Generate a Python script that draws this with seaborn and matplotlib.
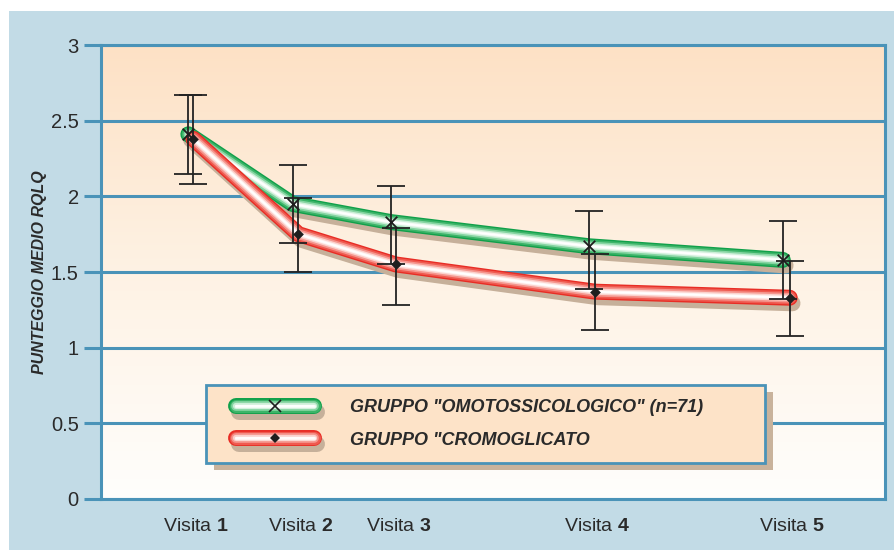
import numpy as np
import pandas as pd
import seaborn as sns
import matplotlib
matplotlib.use("Agg")
import matplotlib.pyplot as plt
import matplotlib.patheffects as pe
from matplotlib.colors import LinearSegmentedColormap
from matplotlib.lines import Line2D
from matplotlib.patches import Rectangle
from matplotlib.legend_handler import HandlerTuple
from matplotlib.transforms import ScaledTranslation

# ---------------- data ----------------
visits = ["1", "2", "3", "4", "5"]
visit_pos = [1.0, 2.06, 3.05, 5.05, 7.01]

omo_x = [0.98, 2.03, 3.02, 5.02, 6.97]
omo_mean = [2.41, 1.95, 1.83, 1.67, 1.58]
omo_hi = [2.67, 2.21, 2.07, 1.90, 1.84]
omo_lo = [2.15, 1.69, 1.55, 1.39, 1.32]

cro_x = [1.03, 2.09, 3.07, 5.08, 7.04]
cro_mean = [2.38, 1.75, 1.55, 1.37, 1.33]
cro_hi = [2.67, 1.99, 1.79, 1.62, 1.57]
cro_lo = [2.08, 1.50, 1.28, 1.12, 1.08]

label_omo = 'GRUPPO "OMOTOSSICOLOGICO" (n=71)'
label_cro = 'GRUPPO "CROMOGLICATO'
ylabel = "PUNTEGGIO MEDIO RQLQ"

# ---------------- style ----------------
sns.set_theme(style="white")
FAM = ["Liberation Sans", "DejaVu Sans"]
plt.rcParams["font.family"] = FAM
plt.rcParams["mathtext.fontset"] = "custom"
plt.rcParams["mathtext.rm"] = "Liberation Sans"
plt.rcParams["mathtext.bf"] = "Liberation Sans:bold"

BLUE = "#4a93b8"
PANEL = "#c2dbe6"
TXT = "#2a2a2a"

fig = plt.figure(figsize=(8.94, 5.5), dpi=100, facecolor="white")
fig.patches.append(Rectangle((9 / 894, 0), 1, 1 - 11 / 550, transform=fig.transFigure,
                             facecolor=PANEL, edgecolor="none", zorder=-10))
ax = fig.add_axes([101 / 894, 1 - 499 / 550, 784 / 894, 454 / 550])

# gradient background
cmap = LinearSegmentedColormap.from_list("bg", ["#fffefc", "#fef2e4", "#fde1c5"])
grad = np.linspace(0, 1, 256)[:, None]
ax.imshow(grad, extent=(0.1, 8.0, 0, 3), origin="lower", aspect="auto",
          cmap=cmap, zorder=-2)
ax.set_xlim(0.1, 8.0)
ax.set_ylim(0, 3)

# grid
ax.set_yticks(np.arange(0, 3.01, 0.5))
ax.yaxis.grid(True, color=BLUE, lw=2.2)
ax.xaxis.grid(False)
ax.set_axisbelow(True)
for s in ax.spines.values():
    s.set_color(BLUE)
    s.set_linewidth(2.2)

def glow(cols):
    kw = dict(capstyle="round", joinstyle="round")
    fx = [pe.SimpleLineShadow(offset=(2, -4), shadow_color="#c6b09a", alpha=1.0,
                              linewidth=11.5, **kw)]
    for lw, c in zip([11.5, 9.5, 7.0, 4.5, 2.5], cols):
        fx.append(pe.Stroke(linewidth=lw, foreground=c, **kw))
    fx.append(pe.Normal())
    return fx

green_fx = glow(["#10a04a", "#3cb468", "#86d5a2", "#cdeed8", "#f3fbf5"])
red_fx = glow(["#e82d25", "#ef5a50", "#f5968e", "#fbd2cd", "#fff4f2"])

df_omo = pd.DataFrame({"x": omo_x, "y": omo_mean})
df_cro = pd.DataFrame({"x": cro_x, "y": cro_mean})

sns.lineplot(data=df_omo, x="x", y="y", ax=ax, color="white", lw=1.2, sort=False,
             estimator=None, zorder=3)
ax.lines[-1].set_path_effects(green_fx)
ax.lines[-1].set_solid_capstyle("round")
sns.lineplot(data=df_cro, x="x", y="y", ax=ax, color="white", lw=1.2, sort=False,
             estimator=None, zorder=4)
ax.lines[-1].set_path_effects(red_fx)
ax.lines[-1].set_solid_capstyle("round")

# error bars
for xs, m, lo, hi in [(omo_x, omo_mean, omo_lo, omo_hi), (cro_x, cro_mean, cro_lo, cro_hi)]:
    m = np.array(m)
    ax.errorbar(xs, m, yerr=[m - np.array(lo), np.array(hi) - m], fmt="none",
                ecolor="#232323", elinewidth=1.3, capsize=10, capthick=1.3, zorder=5)

# markers
sns.scatterplot(x=omo_x, y=omo_mean, ax=ax, marker="x", color="#1e1e1e", s=70,
                linewidth=1.3, zorder=6)
sns.scatterplot(x=cro_x, y=cro_mean, ax=ax, marker="D", color="#1e1e1e", s=30,
                linewidth=0, zorder=6)

# axes labels / ticks
ax.set_xlabel("")
ax.set_ylabel(ylabel, fontsize=11.5, fontweight="bold", fontstyle="italic",
              color=TXT, labelpad=3)
ax.set_yticklabels(["0", "0.5", "1", "1.5", "2", "2.5", "3"])
ax.tick_params(axis="y", which="major", length=12, width=2.2, color=BLUE,
               labelsize=14.5, labelcolor=TXT, pad=4, left=True)
ax.set_xticks(visit_pos)
ax.set_xticklabels([r"Visita $\mathbf{%s}$" % v for v in visits])
ax.tick_params(axis="x", length=0, labelsize=14, labelcolor=TXT, pad=14)
offset = ScaledTranslation(5 / 100, 0, fig.dpi_scale_trans)
for lab in ax.get_xticklabels():
    lab.set_transform(lab.get_transform() + offset)

# legend
h_omo = (Line2D([], [], color="white", lw=1.2, path_effects=green_fx, solid_capstyle="round"),
         Line2D([], [], ls="none", marker="x", color="#1e1e1e", ms=8, mew=1.2))
h_cro = (Line2D([], [], color="white", lw=1.2, path_effects=red_fx, solid_capstyle="round"),
         Line2D([], [], ls="none", marker="D", color="#1e1e1e", ms=5, mew=0))
leg = ax.legend([h_omo, h_cro], [label_omo, label_cro],
                handler_map={tuple: HandlerTuple(ndivide=1, xpad=0.85)},
                loc="lower left", bbox_to_anchor=(0.134, 0.079, 0.713, 0.172),
                mode="expand", frameon=True, fancybox=False,
                prop={"family": FAM, "weight": "bold", "style": "italic", "size": 13},
                handlelength=5.2, handletextpad=1.95, borderpad=0.8, labelspacing=0.85,
                borderaxespad=0)
leg.get_frame().set_facecolor("#fde3c8")
leg.get_frame().set_edgecolor(BLUE)
leg.get_frame().set_linewidth(2)
leg.get_frame().set_alpha(1)
for t in leg.get_texts():
    t.set_color(TXT)
leg.set_zorder(10)

fig.canvas.draw()
bb = leg.get_window_extent()
inv = ax.transAxes.inverted()
(x0, y0), (x1, y1) = inv.transform([[bb.x0 + 8, bb.y0 - 7], [bb.x1 + 8, bb.y1 - 7]])
ax.add_patch(Rectangle((x0, y0), x1 - x0, y1 - y0, transform=ax.transAxes,
                       facecolor="#c9b39c", edgecolor="none", zorder=9, clip_on=False))

fig.savefig("out.png", dpi=100, facecolor="white")
